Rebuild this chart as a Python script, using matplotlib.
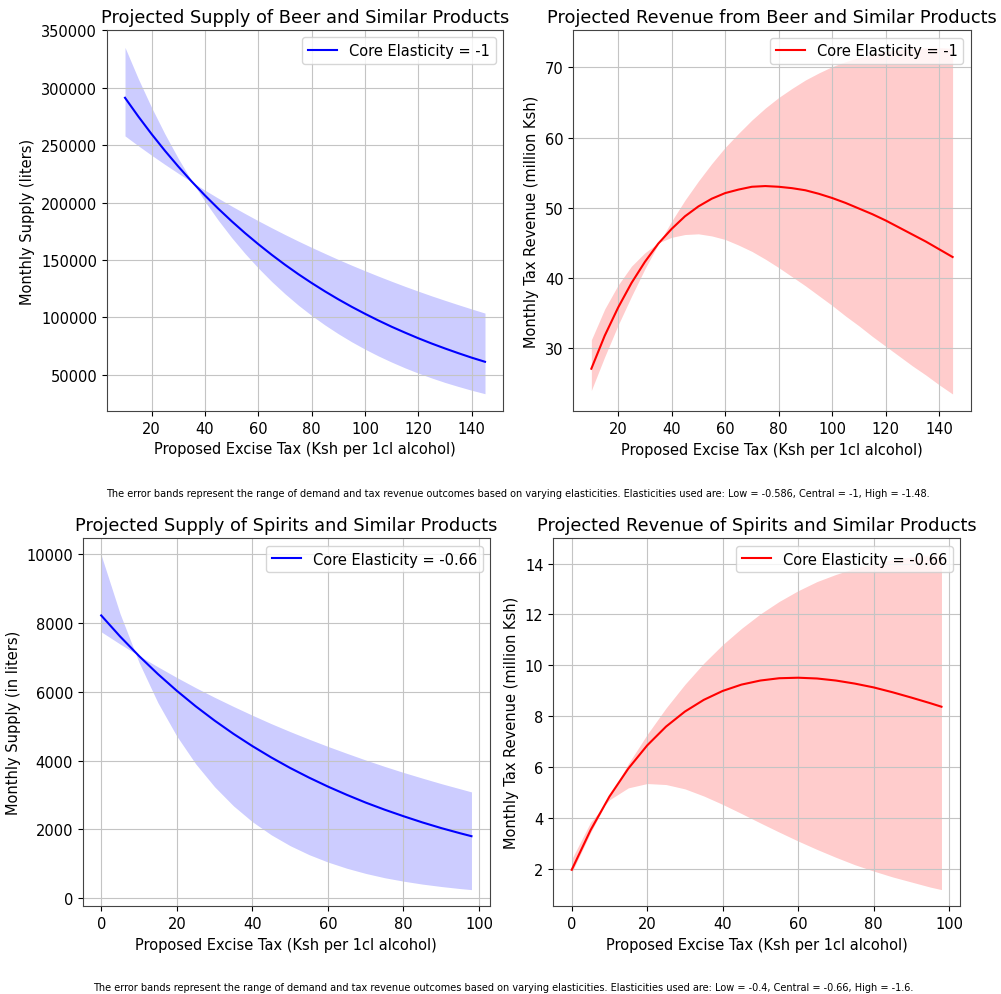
import matplotlib
matplotlib.use("Agg")
import matplotlib.pyplot as plt

# beer: tax grid and read-off values
beer_tax = [10, 15, 20, 25, 30, 35, 40, 45, 50, 55, 60, 65, 70, 75, 80,
            85, 90, 95, 100, 105, 110, 115, 120, 125, 130, 135, 140, 145]
beer_supply_core = [291300, 275000, 259600, 245100, 231400, 218400, 206200, 194700,
                    183800, 173500, 163800, 154600, 145900, 137700, 130000, 122700,
                    115800, 109300, 103200, 97400, 91900, 86800, 81900, 77300,
                    73000, 68900, 65000, 61400]
beer_supply_high = [335200, 307800, 282700, 259600, 238400, 218900, 201000, 184600,
                    169500, 155700, 143000, 131300, 120600, 110700, 101700, 93400,
                    85800, 78800, 72400, 66500, 61100, 56100, 51500, 47300,
                    43400, 39900, 36600, 33600]
beer_supply_low = [258100, 249500, 241200, 233200, 225500, 218000, 210800, 203800,
                   197000, 190500, 184200, 178100, 172200, 166500, 161000, 155700,
                   150500, 145500, 140700, 136000, 131500, 127100, 122900, 118800,
                   114900, 111100, 107400, 103800]
beer_rev_core = [27.1, 31.8, 35.8, 39.3, 42.3, 44.9, 47.0, 48.8, 50.2, 51.3, 52.1,
                 52.6, 53.0, 53.1, 53.0, 52.8, 52.5, 52.0, 51.4, 50.7, 49.9, 49.1,
                 48.2, 47.2, 46.2, 45.2, 44.1, 43.0]
beer_rev_high = [31.2, 35.6, 39.0, 41.7, 43.6, 45.0, 45.8, 46.2, 46.3, 46.0, 45.5,
                 44.7, 43.8, 42.7, 41.5, 40.2, 38.9, 37.5, 36.1, 34.6, 33.2, 31.7,
                 30.3, 28.9, 27.5, 26.2, 24.8, 23.5]
beer_rev_low = [24.0, 28.8, 33.3, 37.4, 41.3, 44.8, 48.1, 51.1, 53.8, 56.3, 58.6,
                60.6, 62.5, 64.2, 65.7, 67.0, 68.2, 69.2, 70.1, 70.8, 71.4, 71.9,
                72.3, 72.5, 72.7, 72.8, 72.8, 72.7]

# spirits
spirit_tax = [0, 5, 10, 15, 20, 25, 30, 35, 40, 45, 50, 55, 60, 65, 70, 75, 80,
              85, 90, 95, 98]
spirit_supply_core = [8210, 7600, 7035, 6510, 6025, 5575, 5160, 4775, 4420, 4090,
                      3785, 3505, 3245, 3005, 2780, 2575, 2385, 2205, 2040, 1890, 1805]
spirit_supply_high = [9960, 8260, 6850, 5680, 4710, 3905, 3240, 2685, 2225, 1845,
                      1530, 1270, 1055, 875, 725, 600, 500, 415, 345, 285, 255]
spirit_supply_low = [7735, 7380, 7040, 6720, 6410, 6115, 5835, 5570, 5315, 5070,
                     4840, 4620, 4410, 4210, 4015, 3830, 3655, 3490, 3330, 3180, 3090]
spirit_rev_core = [1.96, 3.52, 4.84, 5.94, 6.85, 7.59, 8.18, 8.64, 8.99, 9.24, 9.40,
                   9.49, 9.51, 9.48, 9.40, 9.28, 9.13, 8.94, 8.73, 8.51, 8.37]
spirit_rev_high = [2.38, 3.83, 4.71, 5.18, 5.35, 5.31, 5.14, 4.86, 4.53, 4.17, 3.80,
                   3.44, 3.09, 2.76, 2.45, 2.16, 1.91, 1.68, 1.48, 1.28, 1.18]
spirit_rev_low = [1.85, 3.42, 4.84, 6.13, 7.28, 8.32, 9.25, 10.08, 10.81, 11.45, 12.02,
                  12.51, 12.93, 13.29, 13.57, 13.81, 14.00, 14.15, 14.25, 14.32, 14.33]

xlabel = "Proposed Excise Tax (Ksh per 1cl alcohol)"
note_beer = ("The error bands represent the range of demand and tax revenue outcomes based on "
             "varying elasticities. Elasticities used are: Low = -0.586, Central = -1, High = -1.48.")
note_spirit = ("The error bands represent the range of demand and tax revenue outcomes based on "
               "varying elasticities. Elasticities used are: Low = -0.4, Central = -0.66, High = -1.6.")

plt.rcParams["font.size"] = 10.5
plt.rcParams["grid.color"] = "#c4c4c4"
plt.rcParams["axes.edgecolor"] = "#444444"

fig = plt.figure(figsize=(10.01, 9.95), dpi=100)


def panel(rect, x, core, lo, hi, color, title, ylabel, label):
    ax = fig.add_axes(rect)
    ax.plot(x, core, color=color, lw=1.5, label=label)
    ax.fill_between(x, lo, hi, color=color, alpha=0.2, lw=0)
    ax.set_title(title, fontsize=12.8)
    ax.set_xlabel(xlabel)
    ax.set_ylabel(ylabel)
    ax.grid(True)
    ax.legend(loc="upper right")
    return ax


panel([0.1069, 0.5859, 0.3956, 0.3829], beer_tax, beer_supply_core, beer_supply_high,
      beer_supply_low, "blue", "Projected Supply of Beer and Similar Products",
      "Monthly Supply (liters)", "Core Elasticity = -1")
panel([0.5727, 0.5856, 0.3970, 0.3829], beer_tax, beer_rev_core, beer_rev_high,
      beer_rev_low, "red", "Projected Revenue from Beer and Similar Products",
      "Monthly Tax Revenue (million Ksh)", "Core Elasticity = -1")
panel([0.0826, 0.0881, 0.4069, 0.3698], spirit_tax, spirit_supply_core, spirit_supply_high,
      spirit_supply_low, "blue", "Projected Supply of Spirits and Similar Products",
      "Monthly Supply (in liters)", "Core Elasticity = -0.66")
panel([0.5527, 0.0881, 0.4063, 0.3698], spirit_tax, spirit_rev_core, spirit_rev_high,
      spirit_rev_low, "red", "Projected Revenue of Spirits and Similar Products",
      "Monthly Tax Revenue (million Ksh)", "Core Elasticity = -0.66")

fig.text(0.517, 1 - 494 / 995, note_beer, ha="center", va="center", fontsize=7)
fig.text(0.503, 1 - 988 / 995, note_spirit, ha="center", va="center", fontsize=7)

fig.savefig("out.png", dpi=100)
